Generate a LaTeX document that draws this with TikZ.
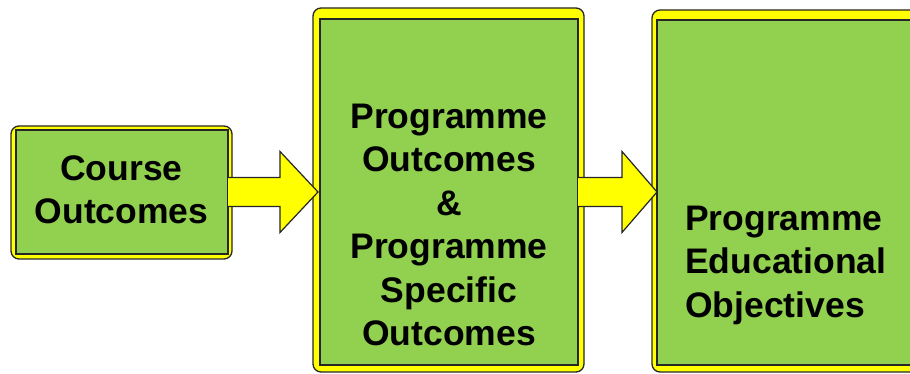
\documentclass[tikz,border=0pt]{standalone}
\usepackage{fontspec}
\setmainfont{Liberation Sans}
\usetikzlibrary{calc}
\definecolor{boxgreen}{HTML}{92D050}
\definecolor{bandyellow}{HTML}{FFFF00}
\definecolor{edgecol}{HTML}{262626}
\begin{document}
\begin{tikzpicture}[x=1pt,y=1pt,
  outerbox/.style={draw=edgecol,line width=1.3pt,fill=bandyellow,rounded corners=8pt,inner sep=0pt,outer sep=0pt,anchor=south west},
  innerbox/.style={draw=edgecol,line width=1.2pt,fill=boxgreen,inner sep=0pt,outer sep=0pt,anchor=south west},
  lbl/.style={font=\fontsize{35.5}{43.5}\selectfont\bfseries,text=black,inner sep=0pt,align=center},
  arrowshape/.style={draw=edgecol,line width=1.2pt,fill=bandyellow,line join=miter}]
\useasboundingbox (0,0) rectangle (910,374);
\clip (0,0) rectangle (910,374);
\node[outerbox, minimum width=221pt, minimum height=133pt] (o1) at (11,115) {};
\node[innerbox, minimum width=212pt, minimum height=124pt] (i1) at (16,120) {};
\node[outerbox, minimum width=271pt, minimum height=364pt] (o2) at (313,2) {};
\node[innerbox, minimum width=258pt, minimum height=346pt] (i2) at (320,9) {};
\node[outerbox, minimum width=300pt, minimum height=362pt] (o3) at (652,2) {};
\node[innerbox, minimum width=290pt, minimum height=345pt] (i3) at (657,9) {};
\node[lbl] (t1) at (121.5,184) {Course\\Outcomes};
\node[lbl] (t2) at (449,149) {Programme\\Outcomes\\\&\\Programme\\Specific\\Outcomes};
\node[lbl, align=left, anchor=west] (t3) at (685,109) {Programme\\Educational\\Objectives};
\draw[arrowshape] let \p1=(i1.east), \p2=(i2.west) in
  (\x1,\y1+14.5) -- (\x2-40,\y1+14.5) -- (\x2-40,\y1+40.5) -- (\x2-2,\y1)
  -- (\x2-40,\y1-40.5) -- (\x2-40,\y1-14.5) -- (\x1,\y1-14.5);
\draw[arrowshape] let \p1=(i2.east), \p2=(i3.west) in
  (\x1,\y1+14.5) -- (\x2-35,\y1+14.5) -- (\x2-35,\y1+40.5) -- (\x2,\y1)
  -- (\x2-35,\y1-40.5) -- (\x2-35,\y1-14.5) -- (\x1,\y1-14.5);
\end{tikzpicture}
\end{document}
